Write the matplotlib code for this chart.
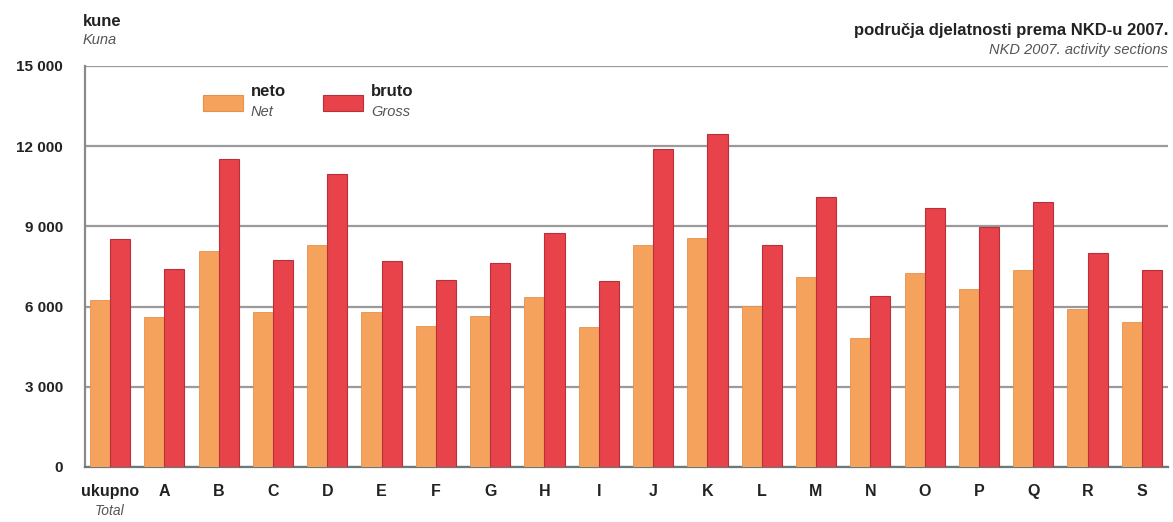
import matplotlib
matplotlib.use("Agg")
import matplotlib.pyplot as plt
from matplotlib.patches import Rectangle
import numpy as np

# podaci (kune)
sections = ['ukupno', 'A', 'B', 'C', 'D', 'E', 'F', 'G', 'H', 'I',
            'J', 'K', 'L', 'M', 'N', 'O', 'P', 'Q', 'R', 'S']
neto = [6260, 5610, 8070, 5790, 8320, 5810, 5290, 5660, 6360, 5220,
        8290, 8550, 6010, 7110, 4820, 7240, 6660, 7350, 5910, 5420]
bruto = [8510, 7390, 11510, 7760, 10950, 7720, 6990, 7640, 8740, 6970,
         11910, 12450, 8300, 10110, 6410, 9700, 8990, 9910, 8010, 7350]
yticks = [0, 3000, 6000, 9000, 12000, 15000]
ytick_labels = ['0', '3 000', '6 000', '9 000', '12 000', '15 000']

c_net = '#F5A25C'
c_gross = '#E8424A'

plt.rcParams['font.family'] = ['Liberation Sans', 'DejaVu Sans']

fig = plt.figure(figsize=(11.73, 5.22), dpi=100)
ax = fig.add_axes([0.0725, 0.1054, 0.9232, 0.7682])

x = np.arange(len(sections))
w = 0.37
ax.bar(x - w / 2, neto, w, color=c_net, edgecolor='#E8904A', linewidth=0.6, zorder=3)
ax.bar(x + w / 2, bruto, w, color=c_gross, edgecolor='#B8303A', linewidth=0.8, zorder=3)

ax.set_xlim(-0.46, 19.48)
ax.set_ylim(0, 15000)
ax.set_yticks(yticks)
ax.set_yticklabels(ytick_labels, fontsize=11, fontweight='bold', color='#222222')
ax.yaxis.grid(True, color='#9a9a9a', linewidth=1.6, zorder=0)
ax.set_axisbelow(True)
ax.tick_params(axis='y', length=0, pad=16)
ax.tick_params(axis='x', length=0, pad=12)
ax.set_xticks(x)
ax.set_xticklabels(sections, fontsize=11.5, fontweight='bold', color='#222222')
fig.text(110 / 1173, 1 - 511 / 522, 'Total', ha='center', va='center',
         fontsize=10, style='italic', color='#555555')

for s in ['top', 'right']:
    ax.spines[s].set_visible(False)
ax.spines['left'].set_color('#8a8a8a')
ax.spines['left'].set_linewidth(1.6)
ax.spines['bottom'].set_color('#6a7a7a')
ax.spines['bottom'].set_linewidth(1.6)

# naslovi
fig.text(83 / 1173, 1 - 22 / 522, 'kune', fontsize=12, fontweight='bold', color='#222222', va='center')
fig.text(83 / 1173, 1 - 40 / 522, 'Kuna', fontsize=10.5, style='italic', color='#555555', va='center')
fig.text(1168 / 1173, 1 - 30 / 522, 'područja djelatnosti prema NKD-u 2007.', fontsize=12,
         fontweight='bold', color='#222222', ha='right', va='center')
fig.text(1168 / 1173, 1 - 50 / 522, 'NKD 2007. activity sections', fontsize=10.5,
         style='italic', color='#555555', ha='right', va='center')

# legenda
for px, col, ec, t1, t2 in [(203, c_net, '#E8904A', 'neto', 'Net'),
                            (323, c_gross, '#B8303A', 'bruto', 'Gross')]:
    fig.patches.append(Rectangle((px / 1173, 1 - 111 / 522), 40 / 1173, 16 / 522,
                                 transform=fig.transFigure, facecolor=col, edgecolor=ec, linewidth=0.8))
    fig.text((px + 48) / 1173, 1 - 92 / 522, t1, fontsize=12, fontweight='bold', color='#222222', va='center')
    fig.text((px + 48) / 1173, 1 - 112 / 522, t2, fontsize=10.5, style='italic', color='#555555', va='center')

fig.savefig('out.png', dpi=100)
